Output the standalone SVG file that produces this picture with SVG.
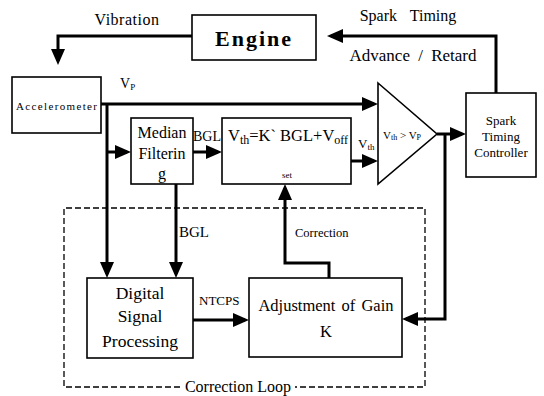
<svg xmlns="http://www.w3.org/2000/svg" width="544" height="396" viewBox="0 0 544 396" font-family="'Liberation Serif', 'DejaVu Serif', 'Times New Roman', serif">
<style>
text{font-family:'Liberation Serif','DejaVu Serif','Times New Roman',serif;fill:#000}
.box{fill:#fff;stroke:#000;stroke-width:1.6}
.c{fill:none;stroke:#000;stroke-width:3;marker-end:url(#ah)}
.m{text-anchor:middle}
</style>
<defs>
<marker id="ah" markerUnits="userSpaceOnUse" markerWidth="16" markerHeight="14" refX="12" refY="7" orient="auto"><path d="M0,0L16,7L0,14z" fill="#000"/></marker>
<marker id="ahb" markerUnits="userSpaceOnUse" markerWidth="19" markerHeight="16" refX="15" refY="8" orient="auto"><path d="M0,0L19,8L0,16z" fill="#000"/></marker>
</defs>
<rect width="544" height="396" fill="#fff"/>
<g id="loop">
<path d="M180,387H64V208H425V387H295" fill="none" stroke="#000" stroke-width="1.3" stroke-dasharray="6,3"/>
<text x="238" y="392" class="m" font-size="16">Correction Loop</text>
</g>
<g id="connectors">
<path d="M192,36H58V61" class="c" marker-end="url(#ahb)"/>
<path d="M496,93V36H331" class="c" stroke-width="2.5" marker-end="url(#ahb)"/>
<path d="M101,104H374" class="c"/>
<path d="M107,104V274" class="c"/>
<path d="M107,152H127" class="c"/>
<path d="M193,152H218" class="c"/>
<path d="M176,184V274" class="c"/>
<path d="M351,161H374" class="c"/>
<path d="M437,134H462" class="c"/>
<path d="M445,134V319H406" class="c"/>
<path d="M193,320H245" class="c"/>
<path d="M329,278V263H285V188" class="c"/>
<text x="127" y="25" class="m" font-size="16" letter-spacing="0.5">Vibration</text>
<text x="408" y="21" class="m" font-size="16" word-spacing="9">Spark Timing</text>
<text x="413" y="61" class="m" font-size="17" word-spacing="4">Advance / Retard</text>
<text x="120" y="88" font-size="14">V<tspan font-size="9" dy="2">P</tspan></text>
<text x="193" y="141" font-size="14">BGL</text>
<text x="358" y="148" font-size="13">V<tspan font-size="9" dy="2">th</tspan></text>
<text x="179" y="237" font-size="15">BGL</text>
<text x="295" y="237" font-size="12.5">Correction</text>
<text x="199" y="305" font-size="13">NTCPS</text>
</g>
<g id="engine">
<rect x="192" y="15" width="124" height="45" class="box"/>
<text x="254" y="46" class="m" font-size="22" font-weight="bold" letter-spacing="2">Engine</text>
</g>
<g id="accelerometer">
<rect x="12" y="77" width="89" height="56" class="box"/>
<text x="16" y="110" font-size="11" textLength="81" lengthAdjust="spacing">Accelerometer</text>
</g>
<g id="median">
<rect x="131" y="118" width="62" height="66" class="box"/>
<text x="162" y="138" class="m" font-size="16">Median</text>
<text x="162" y="159" class="m" font-size="16">Filterin</text>
<text x="162" y="179" class="m" font-size="16">g</text>
</g>
<g id="threshold">
<rect x="222" y="118" width="129" height="66" class="box"/>
<text x="228" y="141" font-size="16.5">V<tspan font-size="12" dy="3">th</tspan><tspan dy="-3">=K` BGL+V</tspan><tspan font-size="12" dy="3">off</tspan></text>
<text x="287" y="178" class="m" font-size="9">set</text>
</g>
<g id="comparator">
<path d="M378,83L437,134L378,184Z" class="box"/>
<text x="402" y="139" class="m" font-size="11">V<tspan font-size="8" dy="1">th</tspan><tspan dy="-1"> &gt; V</tspan><tspan font-size="8" dy="1">P</tspan></text>
</g>
<g id="controller">
<rect x="466" y="93" width="70" height="84" class="box"/>
<text x="501" y="125" class="m" font-size="13">Spark</text>
<text x="501" y="141" class="m" font-size="13">Timing</text>
<text x="501" y="157" class="m" font-size="13">Controller</text>
</g>
<g id="dsp">
<rect x="87" y="278" width="106" height="80" class="box"/>
<text x="140" y="299" class="m" font-size="17.5">Digital</text>
<text x="140" y="322" class="m" font-size="17.5">Signal</text>
<text x="140" y="347" class="m" font-size="17.5">Processing</text>
</g>
<g id="adjust">
<rect x="249" y="278" width="153" height="79" class="box"/>
<text x="326" y="311" class="m" font-size="16.5" word-spacing="2">Adjustment of Gain</text>
<text x="326" y="337" class="m" font-size="16.5">K</text>
</g>
</svg>
